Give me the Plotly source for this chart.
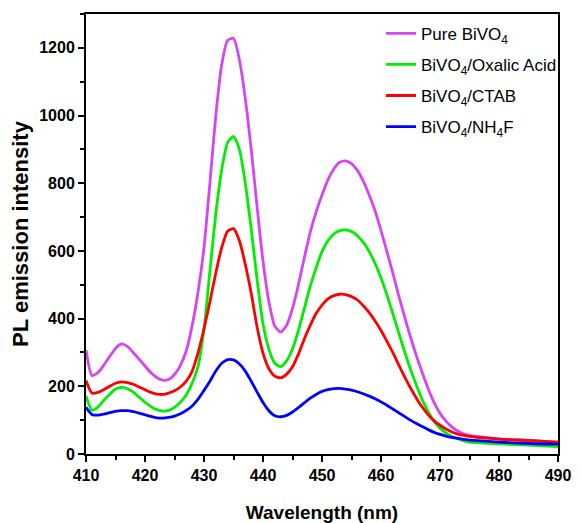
import plotly.graph_objects as go

wavelength = list(range(410, 476)) + [480, 485, 490]

pure_bivo4 = [307, 232, 240, 262, 288, 312, 325, 318, 300, 280,
              260, 240, 226, 218, 220, 235, 262, 305, 380, 480,
              610, 800, 1000, 1150, 1222, 1228, 1165, 1050, 900, 730,
              570, 450, 378, 360, 380, 430, 500, 580, 655, 715,
              765, 810, 842, 862, 866, 858, 838, 806, 765, 718,
              660, 598, 535, 468, 405, 345, 290, 240, 193, 152,
              120, 97, 80, 68, 60, 55, 45, 40, 34]

oxalic = [171, 130, 138, 158, 176, 192, 197, 193, 183, 168,
          153, 140, 131, 127, 129, 138, 153, 175, 210, 260,
          370, 540, 710, 840, 920, 938, 900, 800, 665, 515,
          385, 310, 268, 258, 275, 310, 365, 430, 495, 550,
          598, 630, 650, 660, 662, 657, 645, 625, 598, 563,
          520, 470, 415, 358, 302, 250, 203, 160, 124, 96,
          76, 62, 52, 45, 39, 35, 30, 26, 22]

ctab = [217, 180, 182, 190, 200, 209, 213, 211, 206, 198,
        190, 182, 177, 176, 180, 187, 198, 215, 245, 300,
        370, 450, 535, 610, 658, 666, 630, 560, 475, 375,
        298, 252, 230, 225, 236, 258, 295, 340, 380, 415,
        440, 458, 468, 472, 471, 465, 455, 438, 418, 393,
        365, 333, 300, 263, 228, 195, 165, 138, 116, 98,
        85, 74, 65, 59, 55, 52, 44, 40, 35]

nh4f = [138, 117, 115, 118, 122, 126, 128, 128, 125, 121,
        116, 111, 107, 106, 108, 112, 119, 129, 142, 162,
        188, 215, 245, 268, 279, 278, 266, 245, 215, 183,
        152, 128, 113, 110, 114, 124, 137, 151, 165, 176,
        185, 190, 193, 194, 192, 189, 184, 178, 171, 163,
        154, 144, 133, 122, 111, 100, 90, 81, 72, 64,
        58, 53, 49, 46, 43, 41, 35, 31, 29]

series_names = ["Pure BiVO<sub>4</sub>", "BiVO<sub>4</sub>/Oxalic Acid", "BiVO<sub>4</sub>/CTAB",
                "BiVO<sub>4</sub>/NH<sub>4</sub>F"]
series_values = [pure_bivo4, oxalic, ctab, nh4f]
colors = ["#d545f5", "#00ee00", "#ff0000", "#0000ff"]

x_ticks = [410, 420, 430, 440, 450, 460, 470, 480, 490]
y_ticks = [0, 200, 400, 600, 800, 1000, 1200]

fig = go.Figure()
for i, (name, vals, col) in enumerate(zip(series_names, series_values, colors)):
    fig.add_trace(go.Scatter(x=wavelength, y=vals, name=name, mode="lines", legendgroup=f"g{i}",
                             line=dict(color=col, width=2.8, shape="spline", smoothing=0.6)))

FONT = "Liberation Sans, Arial, sans-serif"
tickfont = dict(family=FONT, size=16, color="black", weight="bold")

# page body has an 8px margin, so the figure is offset by 8px; compensate
fig.update_layout(
    width=573, height=515,
    margin=dict(l=78, r=23, t=6, b=69),
    paper_bgcolor="white", plot_bgcolor="white",
    showlegend=True,
    legend=dict(x=0.625, y=0.996, xanchor="left", yanchor="top",
                bgcolor="rgba(0,0,0,0)", tracegroupgap=6, traceorder="grouped",
                font=dict(family=FONT, size=17, color="black")),
    xaxis=dict(range=[410, 490], tickvals=x_ticks, ticktext=[str(v) for v in x_ticks],
               automargin=False,
               showgrid=False, zeroline=False, showline=True, linecolor="black", linewidth=2,
               mirror=True, ticks="outside", ticklen=6, tickwidth=2, tickcolor="black",
               minor=dict(dtick=5, ticks="outside", ticklen=4, tickwidth=2, tickcolor="black"),
               tickfont=tickfont,
               title=dict(text="Wavelength (nm)", standoff=22,
                          font=dict(family=FONT, size=19, color="black", weight="bold"))),
    yaxis=dict(range=[0, 1300], tickvals=y_ticks, ticktext=[str(v) for v in y_ticks],
               automargin=False,
               showgrid=False, zeroline=False, showline=True, linecolor="black", linewidth=2,
               mirror=True, ticks="outside", ticklen=6, tickwidth=2, tickcolor="black",
               minor=dict(dtick=100, ticks="outside", ticklen=4, tickwidth=2, tickcolor="black"),
               tickfont=tickfont,
               title=dict(text="PL emission intensity", standoff=12,
                          font=dict(family=FONT, size=22, color="black", weight="bold"))),
)

fig.write_html("out.html")
